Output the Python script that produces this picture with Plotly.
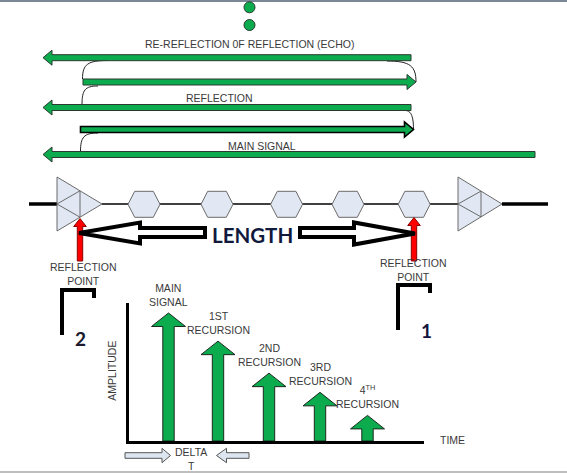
import plotly.graph_objects as go

# ---------------- data ----------------
# amplitude / time plot (lower part of the diagram)
pulse_labels = ["MAIN<br>SIGNAL", "1ST<br>RECURSION", "2ND<br>RECURSION",
                "3RD<br>RECURSION", "4<sup>TH</sup><br>RECURSION"]
pulse_time = [0.79, 1.78, 2.80, 3.82, 4.77]          # in units of delta T
pulse_amplitude = [100, 78, 53, 38, 20]              # relative amplitude

# signal path labels (upper part)
path_labels = ["RE-REFLECTION 0F REFLECTION (ECHO)", "REFLECTION", "MAIN SIGNAL"]
reflection_labels = ["REFLECTION<br>POINT", "REFLECTION<br>POINT"]
bracket_numbers = ["2", "1"]

# ---------------- layout constants ----------------
W, H = 567, 473
GREEN = "#0bab4e"
GREEN_EDGE = "#2a3a30"
HEX_FILL = "#e1e8f3"
HEX_EDGE = "#6a6a6a"
TXT = "#3a3a3a"
FONT = "Liberation Sans, Arial, sans-serif"

T_MAX, A_MAX = 5.9, 107.8
CH_X0, CH_X1, CH_Y0, CH_Y1 = 129, 424, 441, 303      # chart box in pixels
PX_T = (CH_X1 - CH_X0) / T_MAX
PX_A = (CH_Y0 - CH_Y1) / A_MAX

shapes = []
annotations = []


def path(points, close=True):
    s = "M " + " L ".join(f"{x},{y}" for x, y in points)
    return s + (" Z" if close else "")


def add_shape(p, fill=None, line="black", width=1):
    shapes.append(dict(type="path", path=p, xref="x", yref="y",
                       fillcolor=fill if fill else "rgba(0,0,0,0)",
                       line=dict(color=line, width=width)))


def h_arrow(y, x_from, x_tip, sh=3, hh=7.5, hl=9):
    d = 1 if x_tip > x_from else -1
    xb = x_tip - d * hl
    return path([(x_from, y - sh), (xb, y - sh), (xb, y - hh), (x_tip, y),
                 (xb, y + hh), (xb, y + sh), (x_from, y + sh)])


def text(x, y, s, size=10.5, color=TXT, family=FONT, angle=0, bold=False):
    if bold:
        s = f"<b>{s}</b>"
    annotations.append(dict(x=x, y=y, xref="x", yref="y", text=s, showarrow=False,
                            xanchor="center", yanchor="middle", textangle=angle,
                            font=dict(size=size, color=color, family=family)))


# frame lines
shapes.append(dict(type="line", x0=0, x1=W, y0=1, y1=1, xref="x", yref="y",
                   line=dict(color="#7a8797", width=2)))
shapes.append(dict(type="line", x0=0, x1=W, y0=472, y1=472, xref="x", yref="y",
                   line=dict(color="#a8a8a8", width=1.5)))

# dots
for cy in (7.3, 25):
    shapes.append(dict(type="circle", xref="x", yref="y", x0=244, x1=255,
                       y0=cy - 5.5, y1=cy + 5.5, fillcolor=GREEN,
                       line=dict(color=GREEN_EDGE, width=1)))

# connecting curves (thin)
for p in ["M 108,60.5 C 88,60.5 82.5,64 82.5,79",
          "M 98,86 C 85,86 82,90 82,104.5",
          "M 98,133 C 84,133 80.5,137 80.5,151.5",
          "M 387,61 C 410,61 416,66 416,82",
          "M 405,110.5 C 410,110.5 413.5,114 413.5,129.5"]:
    add_shape(p, None, "#222", 1)

# green signal arrows
add_shape(h_arrow(57.7, 411, 43), GREEN, GREEN_EDGE, 1)
add_shape(h_arrow(82, 83, 416), GREEN, GREEN_EDGE, 1)
add_shape(h_arrow(107.5, 411, 43), GREEN, GREEN_EDGE, 1)
add_shape(h_arrow(129.5, 80.5, 413.5), GREEN, "black", 1.6)
add_shape(h_arrow(154.5, 535, 43), GREEN, GREEN_EDGE, 1)

text(249, 44.3, path_labels[0])
text(219.7, 97.7, path_labels[1])
text(262, 146, path_labels[2])

# transmission line
shapes.append(dict(type="line", x0=29, x1=57, y0=204, y1=204, xref="x", yref="y",
                   line=dict(color="black", width=3.5)))
shapes.append(dict(type="line", x0=502, x1=548, y0=204, y1=204, xref="x", yref="y",
                   line=dict(color="black", width=3.5)))
shapes.append(dict(type="line", x0=102, x1=458, y0=204, y1=204, xref="x", yref="y",
                   line=dict(color="black", width=1.5)))

# amplifiers
for x0, x1, xm, top, bot in [(57, 102, 80, 177, 231), (458, 502, 481, 177, 231)]:
    yc = (top + bot) / 2
    add_shape(path([(x0, top), (x1, yc), (x0, bot)]), HEX_FILL, HEX_EDGE, 1)
    ym_t = top + (yc - top) * (xm - x0) / (x1 - x0)
    ym_b = bot - (bot - yc) * (xm - x0) / (x1 - x0)
    add_shape(path([(xm, ym_t), (x0, yc), (xm, ym_b), (xm, ym_t)], close=False),
              None, HEX_EDGE, 1)

# repeaters (hexagons)
for cx in (144, 217, 286.6, 348, 414.2):
    add_shape(path([(cx - 16, 204.3), (cx - 9.3, 191.3), (cx + 9.3, 191.3),
                    (cx + 16, 204.3), (cx + 9.3, 217.3), (cx - 9.3, 217.3)]),
              HEX_FILL, HEX_EDGE, 1)

# red reflection-point arrows
for cx, tip in [(80, 218.5), (414, 217.5)]:
    add_shape(path([(cx - 2.7, 261), (cx - 2.7, tip + 8), (cx - 6.3, tip + 8), (cx, tip),
                    (cx + 6.3, tip + 8), (cx + 2.7, tip + 8), (cx + 2.7, 261)]),
              "#ff0000", "#8a0000", 1)

# LENGTH hollow arrows
add_shape(path([(79, 233), (140, 222.5), (140, 228), (205, 228), (205, 237),
                (140, 237), (140, 243.5)]), "white", "black", 4)
add_shape(path([(415, 233.5), (354, 222.5), (354, 228), (300, 228), (300, 237),
                (354, 237), (354, 244.5)]), "white", "black", 4)
text(252, 234.5, "LENGTH", size=20.5, color="#111a3d", family="Lato, Liberation Sans, sans-serif", bold=True)

# reflection point labels
text(83, 274, reflection_labels[0])
text(413, 270, reflection_labels[1])

# brackets with numbers
add_shape("M 94,298 L 94,290 L 62,290 L 62,335", None, "black", 4)
add_shape("M 430,293 L 430,285 L 398,285 L 398,330", None, "black", 4)
text(80.7, 338, bracket_numbers[0], size=19, color="#1a1a2e", family="Lato, Liberation Sans, sans-serif", bold=True)
text(426.7, 330, bracket_numbers[1], size=19, color="#14143e", family="Lato, Liberation Sans, sans-serif", bold=True)

# axis titles
text(111.7, 371, "AMPLITUDE", angle=-90)
text(452, 440, "TIME")
text(190.7, 458.5, "DELTA<br>T")

# delta-T arrows
add_shape(path([(125, 452.7), (162, 452.7), (162, 448.3), (170.5, 455.5), (162, 462.7),
                (162, 458.3), (125, 458.3)]), "#dde5f0", "#555", 1)
add_shape(path([(249, 452.7), (226.5, 452.7), (226.5, 448.3), (216.5, 455.5), (226.5, 462.7),
                (226.5, 458.3), (249, 458.3)]), "#dde5f0", "#555", 1)

# ---------------- pulses (data-driven) ----------------
hh_t = 17 / PX_T
hs_t = 5.7 / PX_T
head_a = 13.5 / PX_A
px, py = [], []
for t, a in zip(pulse_time, pulse_amplitude):
    px += [t - hs_t, t - hs_t, t - hh_t, t, t + hh_t, t + hs_t, t + hs_t, t - hs_t, None]
    py += [0, a - head_a, a - head_a, a, a - head_a, a - head_a, 0, 0, None]

fig = go.Figure()
fig.add_trace(go.Scatter(x=[0, W], y=[0, H], mode="markers",
                         marker=dict(opacity=0), hoverinfo="skip", xaxis="x", yaxis="y"))
fig.add_trace(go.Scatter(x=px, y=py, xaxis="x2", yaxis="y2", mode="lines",
                         fill="toself", fillcolor=GREEN,
                         line=dict(color="#1b2a1f", width=1), hoverinfo="skip"))
for t, a, lab in zip(pulse_time, pulse_amplitude, pulse_labels):
    annotations.append(dict(x=t, y=a, xref="x2", yref="y2", text=lab, showarrow=False,
                            xanchor="center", yanchor="bottom", yshift=3,
                            font=dict(size=10.5, color=TXT, family=FONT)))

fig.update_layout(
    width=W, height=H, margin=dict(l=0, r=0, t=0, b=0),
    paper_bgcolor="white", plot_bgcolor="rgba(0,0,0,0)", showlegend=False,
    xaxis=dict(range=[0, W], visible=False, domain=[0, 1], fixedrange=True),
    yaxis=dict(range=[H, 0], visible=False, domain=[0, 1], fixedrange=True),
    xaxis2=dict(range=[0, T_MAX], domain=[CH_X0 / W, CH_X1 / W], anchor="y2",
                showline=True, linewidth=3, linecolor="black", showgrid=False,
                zeroline=False, showticklabels=False, ticks="", fixedrange=True),
    yaxis2=dict(range=[0, A_MAX], domain=[1 - CH_Y0 / H, 1 - CH_Y1 / H], anchor="x2",
                showline=True, linewidth=3, linecolor="black", showgrid=False,
                zeroline=False, showticklabels=False, ticks="", fixedrange=True),
    shapes=shapes, annotations=annotations,
)

fig.write_html("out.html", config={"displayModeBar": False},
               post_script="document.body.style.margin='0';document.body.style.overflow='hidden';")
